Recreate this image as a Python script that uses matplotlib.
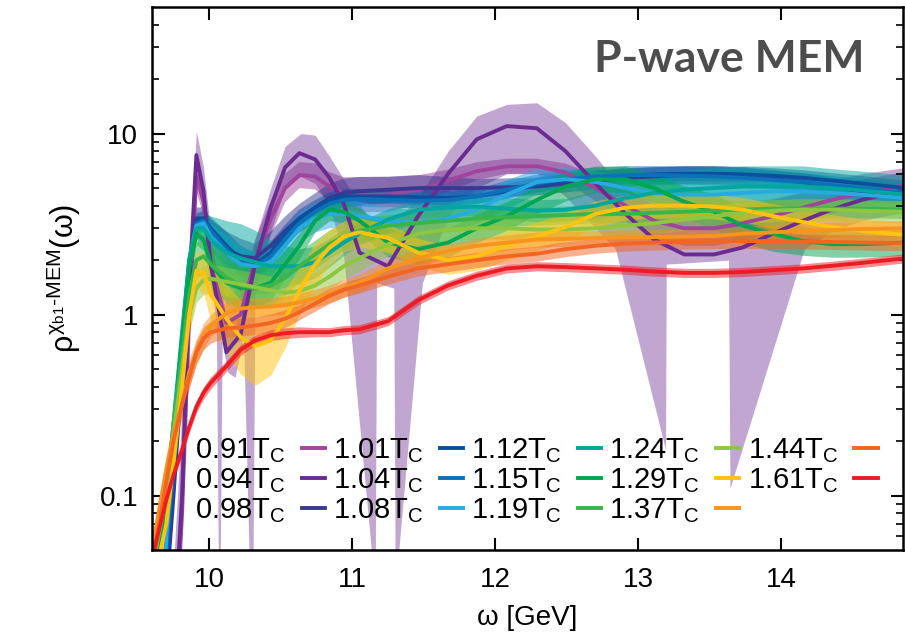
import numpy as np
import matplotlib
matplotlib.use('Agg')
from matplotlib import pyplot as plt
from matplotlib.ticker import FixedLocator, NullLocator

plt.rcParams['font.family'] = ['Liberation Sans', 'DejaVu Sans']
plt.rcParams['mathtext.fontset'] = 'custom'
plt.rcParams['mathtext.rm'] = 'Liberation Sans'
plt.rcParams['mathtext.it'] = 'Liberation Sans'
plt.rcParams['mathtext.bf'] = 'Liberation Sans:bold'

# omega grid [GeV]
omega = [9.60, 9.70, 9.75, 9.81, 9.86, 9.91, 9.96, 10.01, 10.12, 10.22, 10.32, 10.43,
         10.53, 10.63, 10.74, 10.84, 10.94, 11.05, 11.25, 11.46, 11.67, 11.87, 12.08,
         12.29, 12.49, 12.70, 12.91, 13.11, 13.32, 13.53, 13.73, 13.94, 14.15, 14.35,
         14.56, 14.87]

temps = ['0.91', '0.94', '0.98', '1.01', '1.04', '1.08', '1.12',
         '1.15', '1.19', '1.24', '1.29', '1.37', '1.44', '1.61']
colors = ['#a0449c', '#6a2c91', '#3b3893', '#0d4f9e', '#0b72b9', '#27aae1', '#00a79d',
          '#00a651', '#39b54a', '#8dc63f', '#ffc20e', '#f7941d', '#f26522', '#ed1c24']

rho_091 = [0.001, 0.003, 0.01, 0.08, 1.0, 5.8, 4.2, 1.9, 0.9, 1.0, 2.0, 3.4, 5.0, 5.9, 5.8, 5.1, 4.7, 4.6,
           4.6, 4.9, 5.5, 6.2, 6.6, 6.6, 6.1, 5.0, 4.0, 3.3, 3.0, 3.0, 3.2, 3.5, 3.9, 4.3, 4.7, 5.2]
rho_094 = [0.001, 0.004, 0.015, 0.1, 1.4, 7.6, 4.8, 1.9, 0.62, 0.78, 1.9, 3.9, 6.5, 7.8, 7.2, 5.7, 4.1, 2.2,
           1.85, 3.5, 6.0, 9.3, 11.0, 10.7, 8.0, 5.3, 3.6, 2.6, 2.15, 2.15, 2.35, 2.8, 3.3, 3.8, 4.3, 4.9]
rho_098 = [0.001, 0.03, 0.1, 0.5, 1.8, 3.4, 3.4, 2.8, 2.3, 2.1, 2.05, 2.4, 2.9, 3.4, 3.9, 4.4, 4.7, 4.8,
           4.9, 5.0, 5.0, 5.0, 5.05, 5.1, 5.3, 5.5, 5.7, 5.8, 5.9, 5.9, 5.8, 5.6, 5.4, 5.1, 4.8, 4.5]
rho_101 = [0.001, 0.04, 0.12, 0.6, 1.9, 3.3, 3.4, 3.0, 2.4, 2.0, 1.9, 2.2, 2.8, 3.4, 3.9, 4.3, 4.5, 4.5,
           4.5, 4.45, 4.4, 4.5, 4.8, 5.2, 5.5, 5.7, 5.85, 5.95, 6.0, 6.0, 5.95, 5.85, 5.7, 5.5, 5.3, 5.0]
rho_104 = [0.001, 0.05, 0.15, 0.7, 2.0, 3.2, 3.3, 2.9, 2.3, 1.95, 1.85, 2.1, 2.6, 3.2, 3.7, 4.1, 4.3, 4.35,
           4.3, 4.25, 4.3, 4.5, 4.9, 5.3, 5.6, 5.8, 5.9, 5.9, 5.85, 5.8, 5.7, 5.55, 5.4, 5.2, 5.0, 4.7]
rho_108 = [0.001, 0.06, 0.18, 0.75, 2.0, 3.1, 3.2, 2.7, 2.2, 1.9, 1.85, 1.95, 2.4, 3.0, 3.4, 3.6, 3.6, 3.5,
           3.3, 3.2, 3.4, 3.8, 4.6, 5.4, 5.6, 5.4, 5.0, 4.7, 4.6, 4.6, 4.7, 4.8, 4.8, 4.7, 4.6, 4.4]
rho_112 = [0.04, 0.1, 0.25, 0.8, 2.0, 3.0, 3.0, 2.6, 2.2, 2.05, 1.95, 1.85, 1.85, 1.85, 1.95, 2.2, 2.5, 2.8,
           3.35, 3.8, 3.9, 3.95, 3.85, 3.75, 3.8, 4.0, 4.4, 4.7, 4.9, 5.0, 5.1, 5.1, 5.1, 5.0, 4.85, 4.6]
rho_115 = [0.03, 0.08, 0.2, 0.7, 1.8, 2.8, 2.6, 1.9, 1.5, 1.4, 1.4, 1.5, 1.9, 2.4, 3.3, 3.8, 3.7, 3.3,
           2.5, 2.3, 2.5, 3.0, 3.5, 4.3, 5.1, 5.6, 5.6, 5.0, 4.2, 3.7, 3.1, 2.8, 2.55, 2.45, 2.45, 2.5]
rho_119 = [0.04, 0.1, 0.25, 0.6, 1.3, 2.0, 2.1, 1.9, 1.6, 1.45, 1.4, 1.45, 1.6, 1.85, 2.15, 2.45, 2.7, 2.9,
           3.1, 3.2, 3.3, 3.4, 3.45, 3.5, 3.55, 3.6, 3.6, 3.65, 3.7, 3.75, 3.8, 3.85, 3.85, 3.85, 3.85, 3.8]
rho_124 = [0.04, 0.1, 0.22, 0.5, 1.0, 1.4, 1.55, 1.58, 1.52, 1.47, 1.42, 1.36, 1.32, 1.35, 1.45, 1.62, 1.85,
           2.05, 2.45, 2.8, 2.95, 3.0, 3.0, 2.95, 2.95, 3.0, 3.1, 3.2, 3.35, 3.5, 3.65, 3.75, 3.8, 3.8, 3.75, 3.7]
rho_129 = [0.03, 0.07, 0.15, 0.4, 1.0, 1.75, 1.7, 1.3, 0.95, 0.75, 0.67, 0.72, 0.95, 1.35, 1.9, 2.35, 2.7,
           2.85, 2.65, 2.2, 2.0, 2.1, 2.4, 2.7, 3.05, 3.6, 3.9, 4.0, 4.0, 3.95, 3.8, 3.5, 3.25, 3.05, 2.9, 2.75]
rho_137 = [0.05, 0.14, 0.22, 0.32, 0.48, 0.62, 0.76, 0.87, 1.02, 1.08, 1.1, 1.11, 1.13, 1.17, 1.23, 1.3, 1.4,
           1.5, 1.8, 2.05, 2.25, 2.4, 2.5, 2.6, 2.62, 2.65, 2.67, 2.68, 2.7, 2.72, 2.8, 2.85, 2.9, 2.93, 2.97, 3.0]
rho_144 = [0.04, 0.12, 0.2, 0.32, 0.45, 0.62, 0.74, 0.8, 0.84, 0.85, 0.87, 0.9, 0.95, 1.03, 1.15, 1.27, 1.37,
           1.45, 1.62, 1.8, 1.9, 2.0, 2.1, 2.17, 2.3, 2.4, 2.47, 2.5, 2.53, 2.55, 2.55, 2.55, 2.53, 2.52, 2.5, 2.48]
rho_161 = [0.045, 0.095, 0.13, 0.18, 0.24, 0.31, 0.37, 0.42, 0.52, 0.64, 0.72, 0.77, 0.79, 0.8, 0.8, 0.8, 0.82,
           0.83, 0.92, 1.2, 1.45, 1.64, 1.8, 1.85, 1.83, 1.8, 1.77, 1.73, 1.7, 1.7, 1.72, 1.76, 1.8, 1.86, 1.93, 2.05]

# error band as multiplicative factor (upper = rho*f, lower = rho/f)
band_091 = [1.3, 1.3, 1.3, 1.3, 1.3, 1.2, 1.2, 1.3, 1.4, 1.4, 1.3, 1.25, 1.2, 1.18, 1.18, 1.2, 1.22, 1.25,
            1.25, 1.2, 1.15, 1.12, 1.1, 1.1, 1.12, 1.18, 1.22, 1.25, 1.25, 1.25, 1.25, 1.22, 1.2, 1.2, 1.18, 1.18]
band_098 = [1.2, 1.2, 1.2, 1.2, 1.2, 1.15, 1.15, 1.2, 1.25, 1.25, 1.2, 1.2, 1.2, 1.2, 1.2, 1.2, 1.2, 1.2,
            1.18, 1.18, 1.15, 1.12, 1.12, 1.12, 1.12, 1.12, 1.12, 1.12, 1.12, 1.12, 1.12, 1.12, 1.12, 1.12, 1.12, 1.12]
band_101 = [1.15, 1.15, 1.15, 1.15, 1.15, 1.1, 1.1, 1.15, 1.2, 1.2, 1.15, 1.15, 1.12, 1.12, 1.1, 1.1, 1.1, 1.1,
            1.1, 1.1, 1.1, 1.1, 1.1, 1.1, 1.1, 1.1, 1.1, 1.1, 1.1, 1.1, 1.1, 1.1, 1.1, 1.1, 1.1, 1.1]
band_104 = [1.15, 1.15, 1.15, 1.15, 1.15, 1.1, 1.1, 1.15, 1.2, 1.2, 1.18, 1.15, 1.12, 1.12, 1.1, 1.1, 1.1, 1.1,
            1.1, 1.1, 1.1, 1.1, 1.12, 1.12, 1.12, 1.12, 1.12, 1.12, 1.12, 1.12, 1.12, 1.12, 1.12, 1.12, 1.12, 1.12]
band_108 = [1.2, 1.2, 1.2, 1.2, 1.2, 1.12, 1.12, 1.18, 1.25, 1.25, 1.2, 1.2, 1.2, 1.2, 1.2, 1.2, 1.2, 1.2,
            1.18, 1.18, 1.18, 1.2, 1.2, 1.18, 1.15, 1.15, 1.15, 1.15, 1.15, 1.15, 1.15, 1.15, 1.15, 1.15, 1.15, 1.15]
band_112 = [1.35, 1.35, 1.35, 1.3, 1.25, 1.15, 1.2, 1.35, 1.5, 1.55, 1.5, 1.4, 1.3, 1.25, 1.22, 1.2, 1.18, 1.16,
            1.15, 1.12, 1.12, 1.12, 1.15, 1.15, 1.15, 1.2, 1.25, 1.28, 1.28, 1.3, 1.3, 1.3, 1.3, 1.28, 1.28, 1.28]
band_115 = [1.3, 1.3, 1.3, 1.25, 1.2, 1.15, 1.15, 1.25, 1.3, 1.3, 1.3, 1.25, 1.2, 1.18, 1.15, 1.15, 1.15, 1.18,
            1.2, 1.2, 1.2, 1.2, 1.2, 1.2, 1.2, 1.18, 1.18, 1.2, 1.22, 1.25, 1.25, 1.25, 1.2, 1.18, 1.18, 1.18]
band_119 = [1.35, 1.35, 1.35, 1.3, 1.3, 1.25, 1.25, 1.3, 1.35, 1.35, 1.3, 1.3, 1.25, 1.22, 1.2, 1.2, 1.18, 1.18,
            1.15, 1.15, 1.15, 1.15, 1.12, 1.12, 1.12, 1.12, 1.12, 1.12, 1.12, 1.12, 1.12, 1.12, 1.12, 1.12, 1.12, 1.12]
band_124 = [1.3, 1.3, 1.3, 1.25, 1.25, 1.2, 1.2, 1.2, 1.2, 1.2, 1.2, 1.2, 1.2, 1.18, 1.18, 1.18, 1.18, 1.18,
            1.15, 1.15, 1.15, 1.15, 1.15, 1.15, 1.15, 1.15, 1.15, 1.15, 1.15, 1.15, 1.15, 1.15, 1.15, 1.15, 1.15, 1.15]
band_129 = [1.3, 1.3, 1.3, 1.3, 1.3, 1.25, 1.3, 1.4, 1.55, 1.6, 1.65, 1.55, 1.45, 1.35, 1.3, 1.25, 1.22, 1.2,
            1.2, 1.2, 1.2, 1.2, 1.2, 1.2, 1.2, 1.18, 1.17, 1.17, 1.17, 1.17, 1.17, 1.17, 1.17, 1.17, 1.17, 1.17]
band_137 = [1.2, 1.2, 1.2, 1.2, 1.2, 1.18, 1.18, 1.15, 1.15, 1.15, 1.12, 1.12, 1.12, 1.12, 1.12, 1.12, 1.12, 1.12,
            1.12, 1.12, 1.1, 1.1, 1.1, 1.1, 1.1, 1.1, 1.1, 1.1, 1.1, 1.1, 1.1, 1.1, 1.1, 1.1, 1.1, 1.1]
band_144 = [1.15, 1.15, 1.15, 1.15, 1.15, 1.15, 1.15, 1.15, 1.12, 1.12, 1.12, 1.12, 1.12, 1.1, 1.1, 1.1, 1.1, 1.1,
            1.1, 1.1, 1.1, 1.1, 1.1, 1.1, 1.1, 1.1, 1.1, 1.1, 1.1, 1.1, 1.1, 1.1, 1.1, 1.1, 1.1, 1.1]
band_161 = [1.08, 1.08, 1.08, 1.08, 1.08, 1.08, 1.08, 1.08, 1.07, 1.07, 1.07, 1.07, 1.07, 1.07, 1.06, 1.06, 1.06, 1.06,
            1.06, 1.06, 1.06, 1.06, 1.06, 1.06, 1.06, 1.06, 1.06, 1.06, 1.06, 1.06, 1.06, 1.06, 1.06, 1.06, 1.06, 1.06]

# 0.94 Tc band has deep dips, read on its own grid
band094_x = [9.74, 9.79, 9.86, 9.91, 9.96, 10.01, 10.05, 10.07, 10.09, 10.13, 10.18, 10.24, 10.30, 10.32,
             10.43, 10.53, 10.64, 10.74, 10.84, 10.94, 11.16, 11.17, 11.29, 11.30, 11.49, 11.67, 11.87,
             12.08, 12.29, 12.49, 12.70, 12.84, 13.19, 13.195, 13.63, 13.64, 14.16, 14.35, 14.56, 14.87]
band094_lo = [0.01, 0.05, 1.0, 6.3, 3.6, 1.5, 0.9, 0.01, 0.7, 0.48, 0.45, 0.75, 0.01, 1.4,
              2.9, 5.0, 5.8, 5.3, 4.0, 2.1, 0.03, 1.5, 1.4, 0.03, 1.5, 3.5, 5.0,
              6.0, 6.0, 4.5, 3.0, 2.3, 0.18, 1.9, 2.0, 0.11, 2.3, 2.9, 3.3, 3.7]
band094_hi = [0.03, 0.15, 2.2, 10.3, 6.5, 2.9, 1.7, 1.5, 1.3, 0.85, 0.8, 1.5, 2.0, 2.6,
              5.0, 8.5, 10.0, 9.8, 7.5, 5.6, 3.0, 3.0, 3.0, 3.2, 4.8, 8.0, 12.5,
              14.5, 14.8, 11.5, 7.5, 5.5, 3.6, 3.6, 3.9, 3.9, 4.8, 5.5, 6.0, 6.5]

rhos = [rho_091, rho_094, rho_098, rho_101, rho_104, rho_108, rho_112,
        rho_115, rho_119, rho_124, rho_129, rho_137, rho_144, rho_161]
bands = [band_091, None, band_098, band_101, band_104, band_108, band_112,
         band_115, band_119, band_124, band_129, band_137, band_144, band_161]

fig = plt.figure(figsize=(9.05, 6.39), dpi=100)
ax = fig.add_axes([0.168, 0.139, 0.8298, 0.85])

x = np.array(omega)
for t, c, r, b in zip(temps, colors, rhos, bands):
    r = np.array(r)
    # band first, then the line, temperature by temperature
    if b is None:
        ax.fill_between(band094_x, band094_lo, band094_hi, color=c, alpha=0.42, lw=0)
    else:
        b = np.array(b)
        ax.fill_between(x, r / b, r * b, color=c, alpha=0.5, lw=0)
    ax.plot(x, r, color=c, lw=2.8, solid_joinstyle='round',
            label=t + r'T$_\mathrm{C}$')

ax.set_yscale('log')
ax.set_xlim(9.6, 14.85)
ax.set_ylim(0.05, 50)

ax.xaxis.set_major_locator(FixedLocator([10, 11, 12, 13, 14]))
ax.xaxis.set_minor_locator(NullLocator())
ax.yaxis.set_major_locator(FixedLocator([0.1, 1, 10]))
ax.yaxis.set_minor_locator(FixedLocator([0.06, 0.07, 0.08, 0.09, 0.2, 0.3, 0.4, 0.5, 0.6, 0.7, 0.8, 0.9,
                                         2, 3, 4, 5, 6, 7, 8, 9, 20, 30, 40]))
ax.set_yticklabels(['0.1', '1', '10'])
ax.set_xticklabels(['10', '11', '12', '13', '14'])

ax.tick_params(which='both', direction='in', top=True, right=True, labelsize=20)
ax.tick_params(which='major', length=9, width=1.5)
ax.tick_params(which='minor', length=5, width=1.2)
ax.tick_params(axis='x', pad=12)
ax.tick_params(axis='y', pad=10)
for s in ax.spines.values():
    s.set_linewidth(1.8)

ax.set_xlabel('ω [GeV]', fontsize=20, labelpad=9)
ax.set_ylabel(r'$\rho^{\chi_{b1}\text{-}MEM}(\omega)$', fontsize=22, labelpad=12)

ax.text(0.949, 0.88, 'P-wave MEM', transform=ax.transAxes, ha='right', va='baseline',
        fontsize=32, fontweight='bold', color='#4d4d4d', family=['Lato', 'DejaVu Sans'])

ax.legend(loc='upper left', bbox_to_anchor=(0.2155, 0.318), bbox_transform=fig.transFigure,
          ncol=5, markerfirst=False, frameon=False, borderpad=0, borderaxespad=0,
          handlelength=0.8, handletextpad=0.55, columnspacing=0.28, labelspacing=0.05,
          prop={'family': 'Liberation Sans', 'size': 21})

fig.savefig('out.png', dpi=100)
